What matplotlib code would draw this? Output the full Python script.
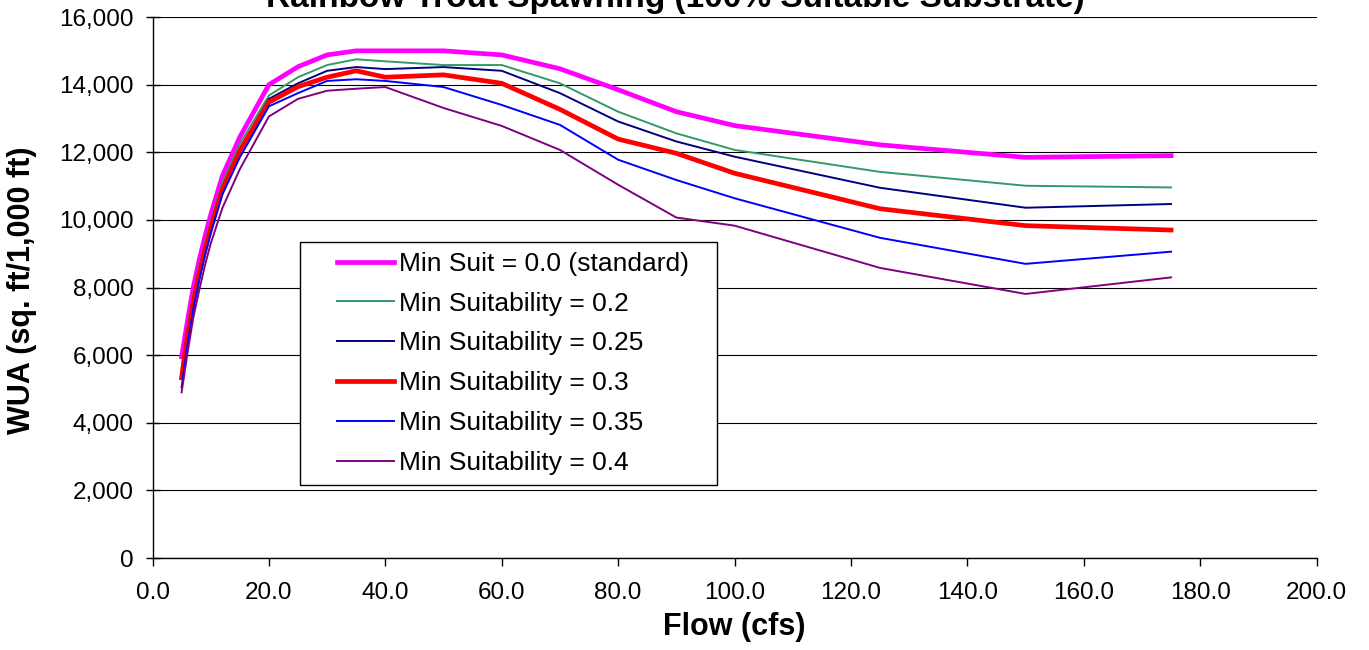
import matplotlib.pyplot as plt
from matplotlib.patches import Rectangle
from matplotlib.ticker import FuncFormatter

plt.rcParams['font.family'] = ['Liberation Sans', 'DejaVu Sans']

flow = [5, 6, 7, 8, 9, 10, 12, 15, 20, 25, 30, 35, 40, 50, 60, 70, 80, 90, 100, 125, 150, 175]

suit_00 = [5950, 7000, 8000, 8800, 9500, 10150, 11300, 12450, 14000, 14530, 14880, 15000, 15000,
           15000, 14880, 14470, 13850, 13200, 12790, 12220, 11850, 11900]
suit_02 = [5600, 6800, 7800, 8600, 9300, 9950, 11100, 12250, 13680, 14220, 14580, 14750, 14690,
           14580, 14580, 14040, 13200, 12560, 12070, 11420, 11010, 10960]
suit_025 = [5300, 6600, 7600, 8450, 9150, 9800, 10950, 12100, 13580, 14040, 14410, 14520, 14460,
            14520, 14410, 13750, 12910, 12320, 11870, 10950, 10360, 10470]
suit_03 = [5330, 6550, 7550, 8400, 9100, 9750, 10900, 12050, 13480, 13940, 14220, 14410, 14220,
           14290, 14040, 13270, 12390, 11970, 11380, 10330, 9830, 9700]
suit_035 = [5050, 6300, 7350, 8200, 8950, 9600, 10750, 11850, 13360, 13750, 14110, 14160, 14110,
            13930, 13400, 12810, 11780, 11180, 10640, 9470, 8700, 9060]
suit_04 = [4900, 6050, 7100, 7900, 8650, 9300, 10350, 11500, 13060, 13580, 13820, 13880, 13930,
           13310, 12780, 12070, 11040, 10070, 9830, 8580, 7810, 8300]

labels = ["Min Suit = 0.0 (standard)", "Min Suitability = 0.2", "Min Suitability = 0.25",
          "Min Suitability = 0.3", "Min Suitability = 0.35", "Min Suitability = 0.4"]
series = [suit_00, suit_02, suit_025, suit_03, suit_035, suit_04]
colors = ["#FF00FF", "#339966", "#000080", "#FF0000", "#0000FF", "#800080"]
widths = [3.4, 1.4, 1.4, 3.4, 1.4, 1.4]

fig = plt.figure(figsize=(13.69, 6.5), dpi=100)
ax = fig.add_axes([0.1114, 0.1415, 0.8503, 0.8323])

for vals, lab, c, w in zip(series, labels, colors, widths):
    ax.plot(flow, vals, color=c, lw=w, label=lab, zorder=3)

ax.set_xlim(0, 200)
ax.set_ylim(0, 16000)
ax.set_xticks(range(0, 201, 20))
ax.set_yticks(range(0, 16001, 2000))
ax.xaxis.set_major_formatter(FuncFormatter(lambda v, p: f"{v:.1f}"))
ax.yaxis.set_major_formatter(FuncFormatter(lambda v, p: f"{v:,.0f}"))
ax.tick_params(axis='x', direction='out', length=5.5, width=1, labelsize=17.5, pad=12)
ax.tick_params(axis='y', direction='inout', length=9.5, width=1, labelsize=17.5, pad=9)
ax.grid(axis='y', color='black', lw=0.8, zorder=1)
ax.set_axisbelow(True)
for s in ['top', 'right']:
    ax.spines[s].set_visible(False)
for s in ['left', 'bottom']:
    ax.spines[s].set_color('black')
    ax.spines[s].set_linewidth(1)

ax.set_xlabel("Flow (cfs)", fontsize=22, fontweight='bold')
ax.xaxis.set_label_coords(0.5, -0.1)
ax.set_ylabel("WUA (sq. ft/1,000 ft)", fontsize=22, fontweight='bold')
ax.yaxis.set_label_coords(-0.099, 0.495)

fig.text(0.493, 1 - 7 / 650, "Rainbow Trout Spawning (100% Suitable Substrate)",
         ha='center', va='baseline', fontsize=24, fontweight='bold')

# legend box drawn by hand so the padding matches
ax.add_patch(Rectangle((0.1267, 0.1355), 0.3584, 0.4495, transform=ax.transAxes,
                       facecolor='white', edgecolor='black', lw=1, zorder=2))
leg = ax.legend(loc='upper left', bbox_to_anchor=(0.1585, 0.566), frameon=False,
                fontsize=19, handlelength=2.15, handletextpad=0.2, labelspacing=0.6,
                borderaxespad=0, borderpad=0)
leg.set_zorder(4)

fig.savefig("out.png", dpi=100)
